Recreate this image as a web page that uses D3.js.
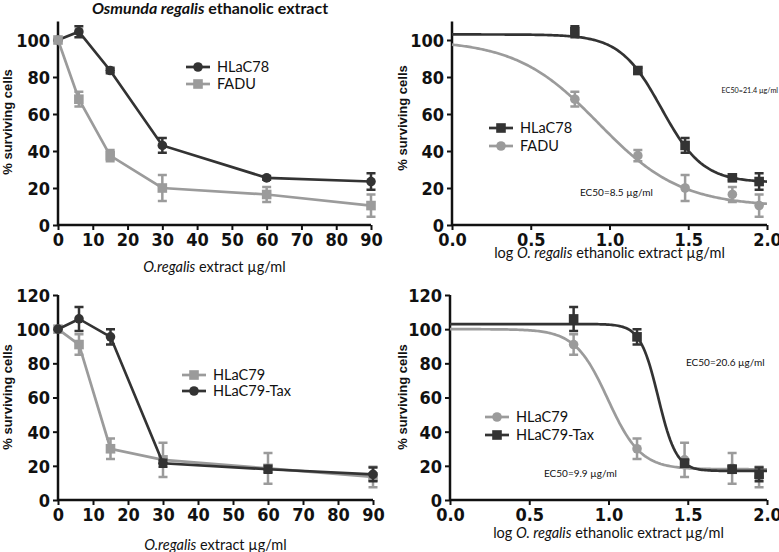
<!DOCTYPE html>
<html>
<head>
<meta charset="utf-8">
<script src="https://cdn.jsdelivr.net/npm/d3@7"></script>
<style>
  body { margin: 0; background: #fff; }
  svg { display: block; }
  .lbl { font-family: Lato, "Open Sans", sans-serif; fill: #111; }
</style>
</head>
<body>
<svg width="779" height="552"></svg>
<script>
const dark = "#333";
const light = "#9b9b9b";

// doses and their log10 values
const doses = [0, 6, 15, 30, 60, 90];
const logDoses = [null, 0.78, 1.18, 1.48, 1.78, 1.95];

// top row: HLaC78 vs FADU
const hlac78 = [100, 104.5, 83.5, 43, 25.5, 23.5];
const hlac78Err = [0, 3, 1.5, 4, 1, 4.5];
const fadu = [100, 68, 37.5, 20, 16.5, 10.5];
const faduErr = [0, 4, 3, 7, 4, 6];

// bottom row: HLaC79 vs HLaC79-Tax
const hlac79 = [100, 91, 30, 23.5, 18.5, 13.5];
const hlac79Err = [0, 6, 6, 10, 9, 6];
const hlac79tax = [100, 106, 95.5, 21.5, 18, 15];
const hlac79taxErr = [0, 7, 4.5, 2, 2, 4];

// four-parameter fits: [top, bottom, logEC50, hill]
const fit78 = [103, 23, 1.33, 3.3];
const fitFadu = [100, 10, 0.93, 1.66];
const fit79 = [100, 18, 0.996, 4.2];
const fit79tax = [103, 17, 1.314, 7.6];

const xTicksLin = d3.range(0, 91, 10);
const xTicksLog = [0, 0.5, 1.0, 1.5, 2.0];

const svg = d3.select("svg");

function series(vals, errs, useLog) {
  return vals.map((v, i) => ({ x: useLog ? logDoses[i] : doses[i], y: v, e: errs[i] }))
    .filter(d => d.x !== null);
}

function drawPanel(p) {
  const g = svg.append("g");
  const x = d3.scaleLinear().domain(p.xDomain).range([p.x0, p.x1]);
  const y = d3.scaleLinear().domain([0, p.yMax]).range([p.y0, p.y1]);

  const xAxis = g.append("g")
    .attr("transform", `translate(0,${p.y0})`)
    .call(d3.axisBottom(x).tickValues(p.xTicks).tickSize(5).tickPadding(3)
      .tickFormat(p.log ? d3.format(".1f") : d3.format("d")));
  const yAxis = g.append("g")
    .attr("transform", `translate(${p.x0},0)`)
    .call(d3.axisLeft(y).tickValues(p.yTicks).tickSize(5).tickPadding(3));
  [xAxis, yAxis].forEach(a => {
    a.select(".domain").attr("stroke", "#111").attr("stroke-width", 2.5);
    a.selectAll(".tick line").attr("stroke", "#111").attr("stroke-width", 2);
    a.selectAll(".tick text")
      .attr("font-family", "'Liberation Sans Narrow', 'DejaVu Sans Condensed', Arial, sans-serif")
      .attr("font-weight", "bold").attr("font-size", 18).attr("fill", "#111");
  });
  yAxis.selectAll(".tick text").attr("dy", "0.36em");
  xAxis.select(".domain").attr("d", `M${p.x0},0H${p.x1}`);
  yAxis.select(".domain").attr("d", `M0,${p.y0}V${y(p.yTop)}`);

  // fitted curves or connecting lines
  p.series.forEach(s => {
    const pts = series(s.vals, s.errs, p.log);
    let path;
    if (p.log) {
      const [top, bot, ec, h] = s.fit;
      const xs = d3.range(0, 2.001, 0.01);
      path = d3.line().x(v => x(v)).y(v => y(bot + (top - bot) / (1 + Math.pow(10, (v - ec) * h))))(xs);
    } else {
      path = d3.line().x(d => x(d.x)).y(d => y(d.y))(pts);
    }
    g.append("path").attr("d", path).attr("fill", "none")
      .attr("stroke", s.color).attr("stroke-width", 2.7);

    // error bars
    pts.filter(d => d.e > 0).forEach(d => {
      const cx = x(d.x);
      g.append("path")
        .attr("d", `M${cx},${y(d.y - d.e)}V${y(d.y + d.e)}M${cx - 4.5},${y(d.y - d.e)}H${cx + 4.5}M${cx - 4.5},${y(d.y + d.e)}H${cx + 4.5}`)
        .attr("stroke", s.color).attr("stroke-width", 2.5).attr("fill", "none");
    });

    // markers
    pts.forEach(d => marker(g, s.shape, x(d.x), y(d.y), s.color));
  });

  // legend
  p.series.forEach((s, i) => {
    const ly = p.legY[i];
    g.append("line").attr("x1", p.legX).attr("x2", p.legX + 24)
      .attr("y1", ly).attr("y2", ly).attr("stroke", s.color).attr("stroke-width", 2.7);
    marker(g, s.shape, p.legX + 12, ly, s.color);
    g.append("text").attr("class", "lbl").attr("x", p.legX + 31).attr("y", ly + 5)
      .attr("font-size", 14.5).text(s.name);
  });

  // axis titles
  g.append("text").attr("class", "lbl")
    .attr("transform", `translate(${p.yLabX},${p.yLabY}) rotate(-90)`)
    .attr("text-anchor", "middle")
    .style("font-family", "'Liberation Sans', Arial, sans-serif")
    .attr("font-weight", "bold").attr("font-size", 13)
    .text("% surviving cells");

  const xl = g.append("text").attr("class", "lbl")
    .attr("x", (p.x0 + p.x1) / 2).attr("y", p.xLabY)
    .attr("text-anchor", "middle").attr("font-size", 14.5);
  p.xLabel.forEach(part => {
    xl.append("tspan").attr("font-style", part.it ? "italic" : null).text(part.t);
  });

  (p.notes || []).forEach(n => {
    g.append("text").attr("class", "lbl").attr("x", n.x).attr("y", n.y)
      .attr("text-anchor", n.anchor || "start")
      .attr("font-size", n.size).attr("fill", n.color).text(n.t);
  });
}

function marker(g, shape, cx, cy, color) {
  if (shape === "circle") {
    g.append("circle").attr("cx", cx).attr("cy", cy).attr("r", 4.8).attr("fill", color);
  } else {
    g.append("rect").attr("x", cx - 4.8).attr("y", cy - 4.8)
      .attr("width", 9.6).attr("height", 9.6).attr("fill", color);
  }
}

const linLabel = [{ t: "O.regalis", it: true }, { t: " extract µg/ml" }];
const logLabel = [{ t: "log " }, { t: "O. regalis", it: true }, { t: " ethanolic extract µg/ml" }];

// top left
drawPanel({
  x0: 58, x1: 371, y0: 225, y1: 40, yMax: 100, yTop: 110,
  xDomain: [0, 90], xTicks: xTicksLin, yTicks: [0, 20, 40, 60, 80, 100], log: false,
  series: [
    { name: "HLaC78", vals: hlac78, errs: hlac78Err, color: dark, shape: "circle" },
    { name: "FADU", vals: fadu, errs: faduErr, color: light, shape: "square" }
  ],
  legX: 186, legY: [67, 84],
  yLabX: 12, yLabY: 122, xLabY: 272, xLabel: linLabel
});

// top right
drawPanel({
  x0: 452, x1: 767, y0: 225, y1: 40, yMax: 100, yTop: 110,
  xDomain: [0, 2], xTicks: xTicksLog, yTicks: [0, 20, 40, 60, 80, 100], log: true,
  series: [
    { name: "HLaC78", vals: hlac78, errs: hlac78Err, color: dark, shape: "square", fit: fit78 },
    { name: "FADU", vals: fadu, errs: faduErr, color: light, shape: "circle", fit: fitFadu }
  ],
  legX: 489, legY: [128, 146],
  yLabX: 407, yLabY: 118, xLabY: 258, xLabel: logLabel,
  notes: [
    { t: "EC50=21.4 µg/ml", x: 778, y: 93, size: 7.2, color: "#111", anchor: "end" },
    { t: "EC50=8.5 µg/ml", x: 580, y: 196, size: 10, color: light }
  ]
});

// bottom left
drawPanel({
  x0: 58, x1: 373, y0: 500, y1: 295, yMax: 120, yTop: 120,
  xDomain: [0, 90], xTicks: xTicksLin, yTicks: [0, 20, 40, 60, 80, 100, 120], log: false,
  series: [
    { name: "HLaC79", vals: hlac79, errs: hlac79Err, color: light, shape: "square" },
    { name: "HLaC79-Tax", vals: hlac79tax, errs: hlac79taxErr, color: dark, shape: "circle" }
  ],
  legX: 182, legY: [375, 391],
  yLabX: 12, yLabY: 397, xLabY: 550, xLabel: linLabel
});

// bottom right
drawPanel({
  x0: 450, x1: 767, y0: 500, y1: 295, yMax: 120, yTop: 120,
  xDomain: [0, 2], xTicks: xTicksLog, yTicks: [0, 20, 40, 60, 80, 100, 120], log: true,
  series: [
    { name: "HLaC79", vals: hlac79, errs: hlac79Err, color: light, shape: "circle", fit: fit79 },
    { name: "HLaC79-Tax", vals: hlac79tax, errs: hlac79taxErr, color: dark, shape: "square", fit: fit79tax }
  ],
  legX: 485, legY: [417, 435],
  yLabX: 407, yLabY: 397, xLabY: 538, xLabel: logLabel,
  notes: [
    { t: "EC50=20.6 µg/ml", x: 686, y: 366, size: 10, color: "#111" },
    { t: "EC50=9.9 µg/ml", x: 544, y: 477, size: 10, color: light }
  ]
});

// title
const title = svg.append("text").attr("class", "lbl")
  .attr("x", 210).attr("y", 14).attr("text-anchor", "middle")
  .attr("font-size", 16).attr("font-weight", "bold");
title.append("tspan").attr("font-style", "italic").text("Osmunda regalis");
title.append("tspan").text(" ethanolic extract");
</script>
</body>
</html>
